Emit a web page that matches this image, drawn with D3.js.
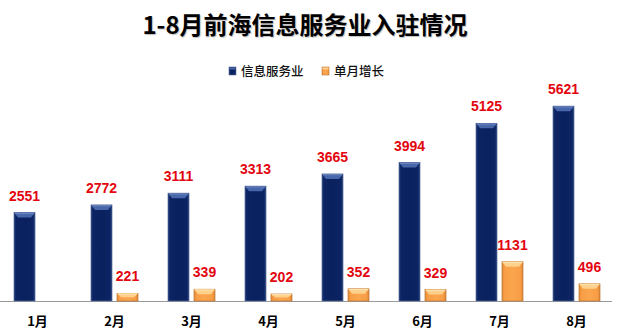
<!DOCTYPE html>
<html>
<head>
<meta charset="utf-8">
<script src="https://cdn.jsdelivr.net/npm/d3@7"></script>
<style>
  html, body { margin: 0; padding: 0; background: #fff; }
  svg { display: block; }
</style>
</head>
<body>
<svg id="chart" width="619" height="335"></svg>
<script>
// Monthly data: cumulative info-service firms and monthly additions
const months = ["1月", "2月", "3月", "4月", "5月", "6月", "7月", "8月"];
const totalFirms = [2551, 2772, 3111, 3313, 3665, 3994, 5125, 5621];
const monthlyAdded = [null, 221, 339, 202, 352, 329, 1131, 496];
const seriesNames = ["信息服务业", "单月增长"];
const chartTitle = "1-8月前海信息服务业入驻情况";

const svg = d3.select("#chart");
const baseY = 301;

const defs = svg.append("defs");
function barGradient(id, stops) {
  const g = defs.append("linearGradient").attr("id", id)
    .attr("x1", "0%").attr("x2", "100%").attr("y1", "0%").attr("y2", "0%");
  stops.forEach(([o, c]) => g.append("stop").attr("offset", o).attr("stop-color", c));
}
barGradient("gBlue", [["0%", "#1b3370"], ["12%", "#0c2463"], ["50%", "#0a215e"], ["88%", "#0c2463"], ["100%", "#1e3874"]]);
barGradient("gOrange", [["0%", "#e08a36"], ["12%", "#f79d45"], ["50%", "#fba64f"], ["88%", "#f79d45"], ["100%", "#dc8432"]]);

const styles = [
  { fill: "url(#gBlue)", stroke: "#5a6f9c", cap: "#4866aa", capHi: "#7088c0" },
  { fill: "url(#gOrange)", stroke: "#b9773a", cap: "#fdd08c", capHi: "#ffe3b0" }
];

// Scales
const x0 = d3.scaleBand().domain(months).range([-1, 615]).padding(0);
const x1 = d3.scaleBand().domain(seriesNames).range([15, 62]).paddingInner(0.192).paddingOuter(0);
const y = d3.scaleLinear().domain([0, 6000]).range([baseY, 93]);

// Title
svg.append("text")
  .attr("x", 305).attr("y", 34)
  .attr("text-anchor", "middle")
  .attr("font-family", "'Noto Sans CJK SC', sans-serif")
  .attr("font-weight", "bold")
  .attr("font-size", 24)
  .attr("fill", "#000")
  .style("text-shadow", "1px 1px 1px rgba(0,0,0,0.25)")
  .text(chartTitle);

// Legend
const legend = svg.append("g").attr("font-family", "'Noto Sans CJK SC', sans-serif").attr("font-size", 12.5);
const legendItems = [{ x: 229, name: seriesNames[0], s: 0 }, { x: 322, name: seriesNames[1], s: 1 }];
legendItems.forEach(d => {
  legend.append("rect").attr("x", d.x).attr("y", 67).attr("width", 7).attr("height", 8)
    .attr("fill", styles[d.s].fill).attr("stroke", styles[d.s].stroke).attr("stroke-width", 0.6);
  legend.append("rect").attr("x", d.x + 0.5).attr("y", 67.5).attr("width", 6).attr("height", 2)
    .attr("fill", styles[d.s].cap);
  legend.append("text").attr("x", d.x + 12).attr("y", 76).attr("fill", "#111")
    .attr("font-weight", 500).text(d.name);
});

// Baseline axis
svg.append("line")
  .attr("x1", 0).attr("x2", 612).attr("y1", baseY + 0.5).attr("y2", baseY + 0.5)
  .attr("stroke", "#9a9a9a").attr("stroke-width", 1);

// Bars
const rows = months.map((m, i) => ({ m, vals: [totalFirms[i], monthlyAdded[i]] }));
const groups = svg.selectAll("g.month").data(rows).join("g")
  .attr("class", "month")
  .attr("transform", d => `translate(${x0(d.m)},0)`);

groups.each(function (d) {
  const g = d3.select(this);
  d.vals.forEach((v, si) => {
    if (v == null) return;
    const bx = x1(seriesNames[si]);
    const bw = x1.bandwidth();
    const top = y(v);
    const h = baseY - top;
    const st = styles[si];
    g.append("rect").attr("x", bx).attr("y", top).attr("width", bw).attr("height", h)
      .attr("fill", st.fill).attr("stroke", st.stroke).attr("stroke-width", 0.7);
    // bevelled top edge
    const capH = Math.min(5, h / 2);
    g.append("path")
      .attr("d", `M${bx},${top} L${bx + bw},${top} L${bx + bw - 4},${top + capH} L${bx + 4},${top + capH} Z`)
      .attr("fill", st.cap);
    g.append("line")
      .attr("x1", bx + 1).attr("x2", bx + bw - 1).attr("y1", top + 0.8).attr("y2", top + 0.8)
      .attr("stroke", st.capHi).attr("stroke-width", 1);
    // value label
    g.append("text")
      .attr("x", bx + bw / 2).attr("y", top - 12)
      .attr("text-anchor", "middle")
      .attr("font-family", "'Liberation Sans', Arial, sans-serif")
      .attr("font-weight", "bold").attr("font-size", 14)
      .attr("fill", "#e3060f")
      .text(v);
  });
});

// Month labels
const xAxis = d3.axisBottom(x0).tickSize(0).tickPadding(0);
const axisG = svg.append("g").attr("transform", `translate(0,${baseY + 16})`).call(xAxis);
axisG.select(".domain").remove();
axisG.selectAll("text")
  .attr("font-family", "'Noto Sans CJK SC', sans-serif")
  .attr("font-weight", "bold").attr("font-size", 13).attr("fill", "#000");
</script>
</body>
</html>
